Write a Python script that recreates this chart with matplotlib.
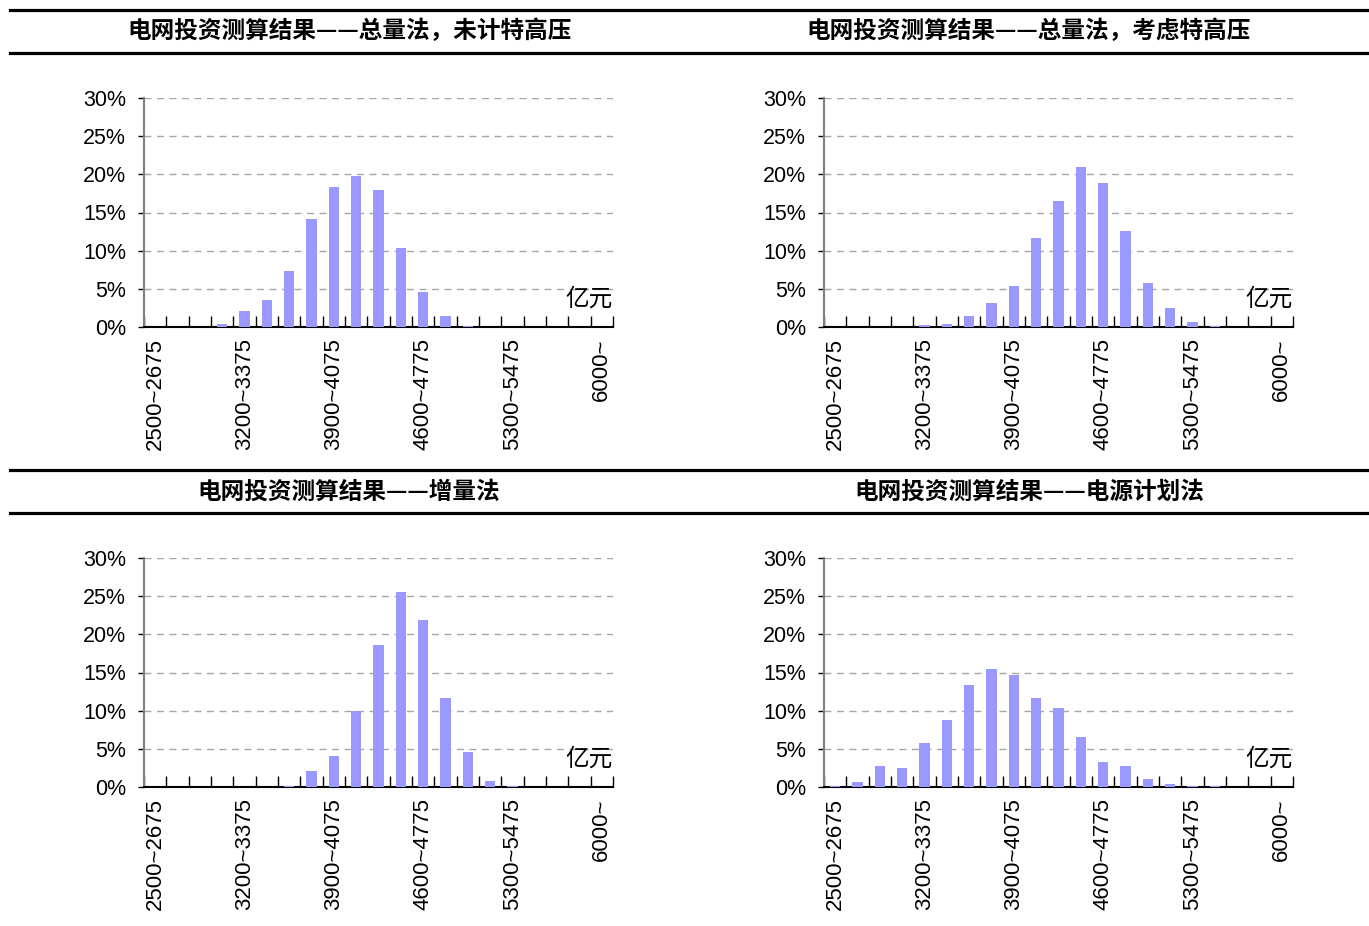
import numpy as np
import matplotlib
matplotlib.use('Agg')
import matplotlib.pyplot as plt
from matplotlib.lines import Line2D

plt.rcParams['font.family'] = ['Liberation Sans', 'Noto Sans CJK SC']

# bins of 175 (亿元), 21 categories, labels every 4th
bins = ['2500~2675', '2675~2850', '2850~3025', '3025~3200',
        '3200~3375', '3375~3550', '3550~3725', '3725~3900',
        '3900~4075', '4075~4250', '4250~4425', '4425~4600',
        '4600~4775', '4775~4950', '4950~5125', '5125~5300',
        '5300~5475', '5475~5650', '5650~5825', '5825~6000', '6000~']
shown = [0, 4, 8, 12, 16, 20]

titles = ['电网投资测算结果——总量法，未计特高压',
          '电网投资测算结果——总量法，考虑特高压',
          '电网投资测算结果——增量法',
          '电网投资测算结果——电源计划法']

# share of simulations per bin (%)
total_no_uhv = [0, 0, 0, 0.45, 2.1, 3.6, 7.4, 14.1, 18.3, 19.8, 17.9,
                10.3, 4.6, 1.5, 0.17, 0, 0, 0, 0, 0, 0]
total_uhv = [0, 0, 0, 0, 0.2, 0.45, 1.5, 3.2, 5.4, 11.6, 16.5,
             21.0, 18.9, 12.6, 5.7, 2.5, 0.7, 0.17, 0, 0, 0]
increment = [0, 0, 0, 0, 0, 0, 0.17, 2.1, 4.0, 10.0, 18.6,
             25.6, 21.9, 11.7, 4.6, 0.8, 0.17, 0, 0, 0, 0]
power_plan = [0.17, 0.7, 2.8, 2.5, 5.7, 8.8, 13.3, 15.4, 14.7, 11.6, 10.3,
              6.5, 3.3, 2.8, 1.1, 0.45, 0.17, 0.17, 0, 0, 0]
series = [total_no_uhv, total_uhv, increment, power_plan]

W, H = 1369, 926
fig = plt.figure(figsize=(W / 100, H / 100), dpi=100)

# header rules and titles
for y in [10, 53, 470, 513]:
    fig.add_artist(Line2D([10 / W, 1], [1 - y / H] * 2, color='black', lw=2.3,
                          transform=fig.transFigure))
title_pos = [(350, 31), (1029, 31), (349, 492), (1029, 492)]

ax_pos = [(144, 327), (824, 327), (144, 787), (824, 787)]
ax_w, ax_h = 469, 229

x = np.arange(len(bins))
for i in range(4):
    tx, ty = title_pos[i]
    fig.text(tx / W, 1 - ty / H, titles[i], ha='center', va='center',
             fontsize=17, fontweight='bold', family=['Noto Sans CJK SC'])

    lx, by = ax_pos[i]
    ax = fig.add_axes([lx / W, 1 - by / H, ax_w / W, ax_h / H])
    ax.bar(x, series[i], width=0.45, color='#9999FF', zorder=3)
    ax.set_xlim(-0.5, len(bins) - 0.5)
    ax.set_ylim(0, 30)

    ax.set_yticks(range(0, 31, 5))
    ax.set_yticklabels([f'{v}%' for v in range(0, 31, 5)], fontsize=15.5)
    ax.tick_params(axis='y', direction='out', length=4, width=1, pad=9)
    ax.yaxis.grid(True, linestyle=(0, (5, 4)), color='#a6a6a6', lw=1)
    ax.set_axisbelow(True)

    ax.set_xticks(shown)
    ax.set_xticklabels([bins[k] for k in shown], rotation=90, fontsize=16)
    ax.tick_params(axis='x', which='major', length=0, pad=8)
    ax.set_xticks(np.arange(-0.5, len(bins), 1), minor=True)
    ax.tick_params(axis='x', which='minor', direction='in', length=8, width=1)

    for s in ['top', 'right']:
        ax.spines[s].set_visible(False)
    ax.spines['left'].set_color('#808080')
    ax.spines['left'].set_linewidth(1.5)
    ax.spines['bottom'].set_color('black')
    ax.spines['bottom'].set_linewidth(1.5)

    ax.text(1.0, 0.12, '亿元', transform=ax.transAxes, ha='right',
            va='center', fontsize=17, family=['Noto Sans CJK SC'],
            fontweight='light')

fig.savefig('out.png', dpi=100)
